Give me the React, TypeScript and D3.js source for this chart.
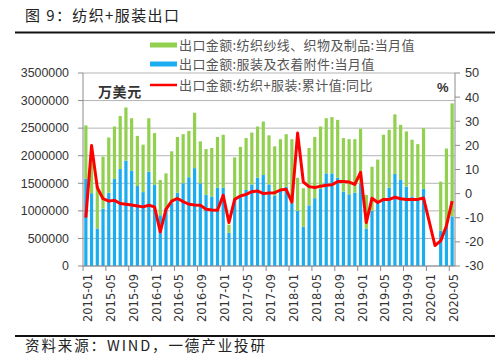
import React from "react";
import * as d3 from "d3";

// categories: 2015-01 .. 2020-05
const months = [
  "2015-01", "2015-02", "2015-03", "2015-04", "2015-05", "2015-06", "2015-07", "2015-08", "2015-09", "2015-10", "2015-11", "2015-12",
  "2016-01", "2016-02", "2016-03", "2016-04", "2016-05", "2016-06", "2016-07", "2016-08", "2016-09", "2016-10", "2016-11", "2016-12",
  "2017-01", "2017-02", "2017-03", "2017-04", "2017-05", "2017-06", "2017-07", "2017-08", "2017-09", "2017-10", "2017-11", "2017-12",
  "2018-01", "2018-02", "2018-03", "2018-04", "2018-05", "2018-06", "2018-07", "2018-08", "2018-09", "2018-10", "2018-11", "2018-12",
  "2019-01", "2019-02", "2019-03", "2019-04", "2019-05", "2019-06", "2019-07", "2019-08", "2019-09", "2019-10", "2019-11", "2019-12",
  "2020-01", "2020-02", "2020-03", "2020-04", "2020-05",
];

// 出口金额:纺织纱线、织物及制品:当月值 (万美元)
const textile: (number | null)[] = [
  970000, 630000, 770000, 945000, 1000000, 950000, 960000, 965000, 955000, 910000, 860000, 970000,
  940000, 640000, 630000, 940000, 1010000, 890000, 840000, 1005000, 760000, 830000, 880000, 920000,
  960000, 150000, 770000, 870000, 940000, 940000, 930000, 970000, 890000, 890000, 930000, 950000,
  1160000, 600000, 700000, 1040000, 1110000, 1130000, 1000000, 1020000, 1050000, 970000, 1000000, 970000,
  990000, 610000, 800000, 790000, 1180000, 1050000, 1080000, 1000000, 1000000, 1030000, 990000, 1100000,
  null, null, 890000, 1410000, 2050000,
];

// 出口金额:服装及衣着附件:当月值 (万美元)
const garment: (number | null)[] = [
  1580000, 1320000, 680000, 1040000, 1330000, 1580000, 1760000, 1910000, 1725000, 1450000, 1340000, 1710000,
  1470000, 920000, 1050000, 1140000, 1330000, 1500000, 1610000, 1775000, 1500000, 1290000, 1260000, 1420000,
  1420000, 600000, 1200000, 1290000, 1380000, 1480000, 1600000, 1650000, 1480000, 1280000, 1370000, 1440000,
  1140000, 1000000, 710000, 1100000, 1230000, 1400000, 1680000, 1680000, 1600000, 1350000, 1300000, 1330000,
  1500000, 680000, 1000000, 1140000, 1200000, 1420000, 1670000, 1560000, 1440000, 1260000, 1220000, 1400000,
  null, null, 640000, 720000, 900000,
];

// 出口金额:纺织+服装:累计值:同比 (%)
const yoy: (number | null)[] = [
  -9.9, 19.9, 2.5, -2.1, -3.1, -2.8, -4.1, -4.4, -4.7, -5.1, -5.5, -4.8,
  -5.5, -15.9, -6.5, -3.1, -2.0, -3.3, -4.4, -4.7, -4.8, -6.5, -6.8, -6.9,
  -0.7, -12.0, -2.4, -1.0, -0.3, 0.8, 1.1, 0.0, 0.3, 0.4, 1.5, 1.8,
  -3.5, 25.1, 4.8, 2.9, 2.5, 3.1, 3.5, 3.7, 5.0, 5.0, 4.8, 3.8,
  8.8, -12.0, -1.9, -3.7, -2.4, -2.4, -1.5, -2.1, -2.4, -2.4, -2.4, -1.8,
  null, -21.5, -19.6, -13.4, -3.1,
];

const leftTicks = [0, 500000, 1000000, 1500000, 2000000, 2500000, 3000000, 3500000];
const rightTicks = [-30, -20, -10, 0, 10, 20, 30, 40, 50];

const legendNames = [
  "出口金额:纺织纱线、织物及制品:当月值",
  "出口金额:服装及衣着附件:当月值",
  "出口金额:纺织+服装:累计值:同比",
];

const GREEN = "#92d050";
const BLUE = "#1aaef0";
const RED = "#ff0000";

export default function App() {
  const width = 500, height = 361;
  const left = 83, right = 455, top = 73, bottom = 266;

  const x = d3.scaleBand().domain(months).range([left, right]).padding(0);
  const bw = x.bandwidth() * 0.56;
  const yL = d3.scaleLinear().domain([0, 3500000]).range([bottom, top]);
  const yR = d3.scaleLinear().domain([-30, 50]).range([bottom, top]);

  const rows = months.map((m, i) => ({ m, garment: garment[i] ?? 0, textile: textile[i] ?? 0, has: garment[i] != null }));
  const stacked = d3.stack<any>().keys(["garment", "textile"])(rows);

  const linePts = months
    .map((m, i) => ({ m, v: yoy[i] }))
    .filter(d => d.v != null);
  const line = d3.line<any>()
    .x(d => (x(d.m) as number) + x.bandwidth() / 2)
    .y(d => yR(d.v));

  const axisFont = "'Liberation Sans', Arial, sans-serif";
  const cjk = "'Noto Sans CJK SC', sans-serif";

  return (
    <svg width={width} height={height} style={{ position: "absolute", left: 0, top: 0, background: "#fff" }}>
      <rect width={width} height={height} fill="#fff" />
      {/* title */}
      <text x={25} y={21} fontFamily={cjk} fontSize={15} letterSpacing={1.4} fill="#222">图 9：纺织+服装出口</text>
      <line x1={15} x2={495} y1={32.5} y2={32.5} stroke="#111" strokeWidth={2} />

      {/* grid */}
      {leftTicks.map(t => (
        <line key={t} x1={left} x2={right} y1={yL(t)} y2={yL(t)} stroke="#b4b4b4" strokeWidth={1} />
      ))}

      {/* bars */}
      {stacked.map((s, k) => (
        <g key={s.key} fill={k === 0 ? BLUE : GREEN}>
          {s.map((d, i) => d.data.has ? (
            <rect key={i}
              x={(x(d.data.m) as number) + (x.bandwidth() - bw) / 2}
              y={yL(d[1])}
              width={bw}
              height={yL(d[0]) - yL(d[1])} />
          ) : null)}
        </g>
      ))}

      {/* axes */}
      <line x1={left} x2={left} y1={top} y2={bottom} stroke="#8c8c8c" />
      <line x1={right} x2={right} y1={top} y2={bottom} stroke="#8c8c8c" />
      <line x1={left} x2={right} y1={bottom} y2={bottom} stroke="#8c8c8c" />
      {leftTicks.map(t => (
        <g key={t}>
          <line x1={left - 5} x2={left} y1={yL(t)} y2={yL(t)} stroke="#8c8c8c" />
          <text x={69} y={yL(t)} dy="0.35em" textAnchor="end" fontFamily={axisFont} fontSize={12.4} fill="#333">{t}</text>
        </g>
      ))}
      {rightTicks.map(t => (
        <g key={t}>
          <line x1={right} x2={right + 5} y1={yR(t)} y2={yR(t)} stroke="#8c8c8c" />
          <text x={465} y={yR(t)} dy="0.35em" fontFamily={axisFont} fontSize={12.8} fill="#333">{t}</text>
        </g>
      ))}
      {months.map((m, i) => i % 4 === 0 ? (
        <g key={m}>
          <line x1={x(m) as number} x2={x(m) as number} y1={bottom} y2={bottom + 5} stroke="#8c8c8c" />
          <text transform={`translate(${(x(m) as number) + x.bandwidth() / 2 + 2},${bottom + 8}) rotate(-90)`}
            textAnchor="end" dominantBaseline="central" fontFamily="'DejaVu Sans', sans-serif" fontSize={11.5} fill="#333">{m}</text>
        </g>
      ) : null)}

      {/* yoy line */}
      <path d={line(linePts) as string} fill="none" stroke={RED} strokeWidth={3} strokeLinejoin="round" />

      {/* unit labels */}
      <text x={98} y={97} fontFamily={cjk} fontSize={14} fontWeight={600} letterSpacing={0.6} fill="#333">万美元</text>
      <text x={437} y={92} fontFamily={axisFont} fontSize={13} fontWeight={700} fill="#333">%</text>

      {/* legend */}
      <rect x={147} y={77} width={222} height={17} fill="#fff" />
      <rect x={150} y={42.5} width={27} height={5} fill={GREEN} />
      <rect x={150} y={61.5} width={27} height={5} fill={BLUE} />
      <line x1={150} x2={177} y1={85} y2={85} stroke={RED} strokeWidth={2.5} />
      {legendNames.map((n, i) => (
        <text key={n} x={179} y={[45, 64, 85][i]} dy="0.36em" fontFamily={cjk} fontSize={13} letterSpacing={0.4} fill="#555">{n}</text>
      ))}

      {/* footer */}
      <line x1={15} x2={495} y1={336} y2={336} stroke="#111" strokeWidth={2} />
      <text x={25} y={351} fontFamily={cjk} fontSize={14.5} letterSpacing={1.9} fill="#222">资料来源：WIND，一德产业投研</text>
    </svg>
  );
}
